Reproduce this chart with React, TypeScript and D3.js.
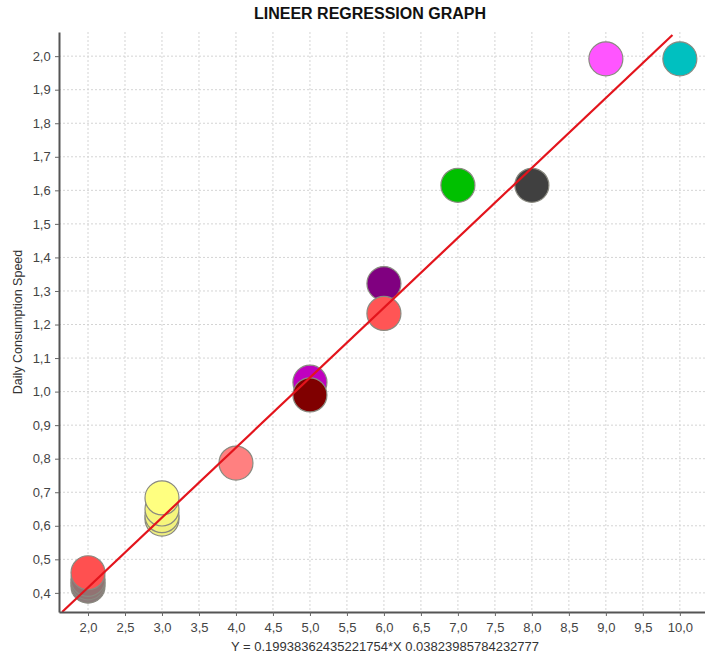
import React, { useEffect, useRef } from "react";
import * as d3 from "d3";

// points: x, y, fill (drawn in this order)
const pointX = [2, 2, 2, 2, 3, 3, 3, 3, 4, 5, 5, 6, 6, 7, 8, 9, 10];
const pointY = [0.42, 0.43, 0.44, 0.46, 0.62, 0.63, 0.65, 0.683, 0.787, 1.028, 0.99, 1.322, 1.233, 1.615, 1.615, 1.992, 1.992];
const pointColors = [
  "#8a7a7a", "#8e7676", "#927272", "#ff5050",
  "#eeee80", "#f2f27e", "#f6f67c", "#ffff80",
  "#ff8080",
  "#c000c0", "#800000",
  "#800080", "#ff5555",
  "#00c000", "#404040", "#ff55ff", "#00c0c0",
];

const xTicks = [2, 2.5, 3, 3.5, 4, 4.5, 5, 5.5, 6, 6.5, 7, 7.5, 8, 8.5, 9, 9.5, 10];
const yTicks = [0.4, 0.5, 0.6, 0.7, 0.8, 0.9, 1.0, 1.1, 1.2, 1.3, 1.4, 1.5, 1.6, 1.7, 1.8, 1.9, 2.0];

// regression line as drawn in the picture
const lineX = [1.65, 9.9];
const regSlope = 0.2085;
const regIntercept = -0.001;

const equationText = "Y = 0.19938362435221754*X 0.03823985784232777";

const App = () => {
  const svgRef = useRef<SVGSVGElement>(null);

  useEffect(() => {
    document.body.style.margin = "0";
    const width = 705;
    const height = 658;
    const left = 59, right = 705, top = 32, bottom = 612;

    const svg = d3.select(svgRef.current)
      .attr("width", width)
      .attr("height", height)
      .style("display", "block")
      .style("font-family", "'Liberation Sans', Arial, sans-serif");
    svg.selectAll("*").remove();

    const x = d3.scaleLinear().domain([1.608, 10.34]).range([left, right]);
    const y = d3.scaleLinear().domain([0.343, 2.072]).range([bottom, top]);
    const fmt = (d: number) => d3.format(".1f")(d).replace(".", ",");

    svg.append("rect").attr("width", width).attr("height", height).attr("fill", "#fff");

    // grid
    const grid = svg.append("g").attr("stroke", "#d4d4d4").attr("stroke-dasharray", "2,2").attr("stroke-width", 1);
    grid.selectAll(".gx").data(xTicks).enter().append("line")
      .attr("x1", (d) => x(d)).attr("x2", (d) => x(d))
      .attr("y1", top).attr("y2", bottom);
    grid.selectAll(".gy").data(yTicks).enter().append("line")
      .attr("x1", left).attr("x2", right)
      .attr("y1", (d) => y(d)).attr("y2", (d) => y(d));

    // points
    const pts = d3.range(pointX.length);
    svg.append("g").selectAll("circle").data(pts).enter().append("circle")
      .attr("cx", (i) => x(pointX[i]))
      .attr("cy", (i) => y(pointY[i]))
      .attr("r", 17)
      .attr("fill", (i) => pointColors[i])
      .attr("stroke", "#8a8a80")
      .attr("stroke-width", 1.2);

    // regression line
    const line = d3.line<number>().x((d) => x(d)).y((d) => y(regSlope * d + regIntercept));
    svg.append("path").datum(lineX).attr("d", line)
      .attr("fill", "none").attr("stroke", "#e3141c").attr("stroke-width", 2.2);

    // axes
    const xAxis = d3.axisBottom(x).tickValues(xTicks).tickFormat((d) => fmt(d as number)).tickSize(4).tickSizeOuter(0);
    const gx = svg.append("g").attr("transform", `translate(0,${bottom})`).call(xAxis);
    const yAxis = d3.axisLeft(y).tickValues(yTicks).tickFormat((d) => fmt(d as number)).tickSize(4).tickSizeOuter(0);
    const gy = svg.append("g").attr("transform", `translate(${left},0)`).call(yAxis);
    [gx, gy].forEach((g) => {
      g.select(".domain").attr("stroke", "#555").attr("stroke-width", 2);
      g.selectAll(".tick line").attr("stroke", "#666");
      g.selectAll(".tick text").attr("fill", "#444").style("font-size", "13px")
        .style("font-family", "'Liberation Sans', Arial, sans-serif");
    });
    gx.selectAll(".tick text").attr("dy", "1.0em");
    gy.selectAll(".tick text").attr("dx", "-0.1em");

    // title
    svg.append("text").attr("x", 370).attr("y", 19).attr("text-anchor", "middle")
      .style("font-size", "16px").style("font-weight", "bold").attr("fill", "#111")
      .text("LINEER REGRESSION GRAPH");

    // y label
    svg.append("text").attr("transform", `translate(22,322) rotate(-90)`)
      .attr("text-anchor", "middle").style("font-size", "12.5px").attr("fill", "#333")
      .text("Daily Consumption Speed");

    // equation
    svg.append("text").attr("x", 385).attr("y", 651).attr("text-anchor", "middle")
      .style("font-size", "13px").attr("fill", "#333")
      .text(equationText);
  }, []);

  return <svg ref={svgRef}></svg>;
};

export default App;
